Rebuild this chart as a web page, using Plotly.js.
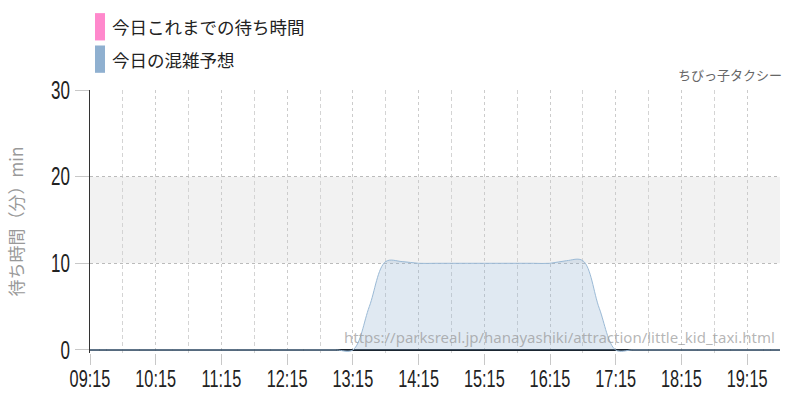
<!DOCTYPE html>
<html>
<head>
<meta charset="utf-8">
<script src="https://cdn.plot.ly/plotly-3.0.1.min.js"></script>
<style>
  html, body { margin: 0; padding: 0; background: #fff; }
  #chart { width: 800px; height: 400px; }
</style>
</head>
<body>
<div id="chart"></div>
<script type="text/javascript">

    /* * Data (15 min steps) * */
    var times = [
        '2024-01-01 09:15', '2024-01-01 09:30', '2024-01-01 09:45', '2024-01-01 10:00',
        '2024-01-01 10:15', '2024-01-01 10:30', '2024-01-01 10:45', '2024-01-01 11:00',
        '2024-01-01 11:15', '2024-01-01 11:30', '2024-01-01 11:45', '2024-01-01 12:00',
        '2024-01-01 12:15', '2024-01-01 12:30', '2024-01-01 12:45', '2024-01-01 13:00',
        '2024-01-01 13:15', '2024-01-01 13:30', '2024-01-01 13:45', '2024-01-01 14:00',
        '2024-01-01 14:15', '2024-01-01 14:30', '2024-01-01 14:45', '2024-01-01 15:00',
        '2024-01-01 15:15', '2024-01-01 15:30', '2024-01-01 15:45', '2024-01-01 16:00',
        '2024-01-01 16:15', '2024-01-01 16:30', '2024-01-01 16:45', '2024-01-01 17:00',
        '2024-01-01 17:15', '2024-01-01 17:30', '2024-01-01 17:45', '2024-01-01 18:00',
        '2024-01-01 18:15', '2024-01-01 18:30', '2024-01-01 18:45', '2024-01-01 19:00',
        '2024-01-01 19:15', '2024-01-01 19:30', '2024-01-01 19:45'
    ];
    var forecast = [
        0, 0, 0, 0,
        0, 0, 0, 0,
        0, 0, 0, 0,
        0, 0, 0, 0,
        0, 5, 10.2, 10.2,
        10, 10, 10, 10,
        10, 10, 10, 10,
        10, 10.3, 10.3, 4.8,
        0, 0, 0, 0,
        0, 0, 0, 0,
        0, 0, 0
    ];
    var waited_times = [];
    var waited_values = [];

    var legend_labels = ['今日これまでの待ち時間', '今日の混雑予想'];
    var legend_colors = ['#ff88cc', '#8fb0d0'];
    var chart_title = 'ちびっ子タクシー';
    var source_url = 'https://parksreal.jp/hanayashiki/attraction/little_kid_taxi.html';
    var y_title = '待ち時間（分）min';

    var tick_font = '"Liberation Sans", Arial, sans-serif';
    var jp_font = '"Noto Sans CJK JP", "Noto Sans", sans-serif';
    var tick_squeeze = 0.68;

    var data = [{
        x: times,
        y: forecast,
        type: 'scatter',
        mode: 'lines',
        line: { color: '#9bbad6', width: 1, shape: 'spline', smoothing: 1 },
        fill: 'tozeroy',
        fillcolor: 'rgba(143,176,208,0.28)',
        hoverinfo: 'skip',
        showlegend: false
    }, {
        x: waited_times,
        y: waited_values,
        type: 'scatter',
        mode: 'lines',
        line: { color: '#ff88cc', width: 1 },
        showlegend: false
    }];

    var shapes = [{
        type: 'rect', xref: 'paper', yref: 'y', x0: 0, x1: 1, y0: 10, y1: 20,
        fillcolor: '#f2f2f2', line: { width: 0 }, layer: 'below'
    }];
    var annotations = [];

    /* * Custom legend (tall swatches) * */
    for (var i = 0; i < legend_labels.length; i++) {
        shapes.push({
            type: 'rect', xref: 'paper', yref: 'paper',
            x0: 5 / 690, x1: 15 / 690,
            y0: 1 + (90 - 41 - i * 32) / 260, y1: 1 + (90 - 14 - i * 32) / 260,
            fillcolor: legend_colors[i], line: { width: 0 }
        });
        annotations.push({
            xref: 'paper', yref: 'paper', x: 20 / 690, y: 1 + (90 - 27.5 - i * 32) / 260,
            xanchor: 'left', yanchor: 'middle', showarrow: false,
            text: legend_labels[i],
            font: { family: jp_font, size: 17.5, color: '#222' }
        });
    }

    annotations.push({
        xref: 'paper', yref: 'paper', x: 1, y: 1 + 15 / 260, xshift: 4,
        xanchor: 'right', yanchor: 'middle', showarrow: false,
        text: chart_title,
        font: { family: jp_font, size: 13, color: '#666' }
    });
    annotations.push({
        xref: 'paper', yref: 'paper', x: 0.995, y: 16 / 260,
        xanchor: 'right', yanchor: 'middle', showarrow: false,
        text: source_url,
        font: { family: '"Noto Sans", "Open Sans", sans-serif', size: 15, color: 'rgba(150,150,150,0.7)' }
    });

    var layout = {
        width: 800,
        height: 400,
        margin: { l: 90, r: 20, t: 90, b: 47 },
        paper_bgcolor: '#fff',
        plot_bgcolor: '#fff',
        showlegend: false,
        xaxis: {
            type: 'date',
            range: ['2024-01-01 09:15', '2024-01-01 19:45'],
            tick0: '2024-01-01 09:15',
            dtick: 3600000,
            tickformat: '%H:%M',
            ticks: 'outside',
            ticklen: 11,
            tickcolor: '#c8c8c8',
            tickfont: { family: tick_font, size: 24, color: '#222' },
            showgrid: true,
            gridcolor: '#cccccc',
            griddash: 'dot',
            minor: {
                tick0: '2024-01-01 09:15',
                dtick: 1800000,
                showgrid: true,
                gridcolor: '#d4d4d4',
                griddash: '4px,3px',
                ticks: ''
            },
            showline: false,
            zeroline: false,
            fixedrange: true
        },
        yaxis: {
            range: [-0.35, 30],
            tickvals: [0, 10, 20, 30],
            ticks: 'outside',
            ticklen: 14,
            tickcolor: '#c8c8c8',
            tickfont: { family: tick_font, size: 25, color: '#222' },
            showgrid: true,
            gridcolor: '#bbbbbb',
            griddash: 'dot',
            showline: true,
            linecolor: '#333',
            linewidth: 1,
            zeroline: true,
            zerolinecolor: '#1a2530',
            zerolinewidth: 1.5,
            title: {
                text: y_title,
                font: { family: jp_font, size: 17, color: '#999' },
                standoff: 14
            },
            fixedrange: true
        },
        shapes: shapes,
        annotations: annotations
    };

    /* * squeeze tick labels horizontally (condensed look), pull x labels up a bit * */
    function squeeze_ticks(gd) {
        var labels = gd.querySelectorAll('.xtick text, .ytick text');
        for (var k = 0; k < labels.length; k++) {
            var t = labels[k];
            var x = parseFloat(t.getAttribute('x')) || 0;
            var y = parseFloat(t.getAttribute('y')) || 0;
            var dy = t.parentNode.classList.contains('xtick') ? -7 : 0;
            var tr = t.getAttribute('transform') || '';
            t.setAttribute('transform', tr + ' translate(' + x + ',' + (y + dy) + ') scale(' + tick_squeeze + ',1) translate(' + (-x) + ',' + (-y) + ')');
        }
    }

    Plotly.newPlot('chart', data, layout, { displayModeBar: false, staticPlot: true }).then(squeeze_ticks);

</script>
</body>
</html>
